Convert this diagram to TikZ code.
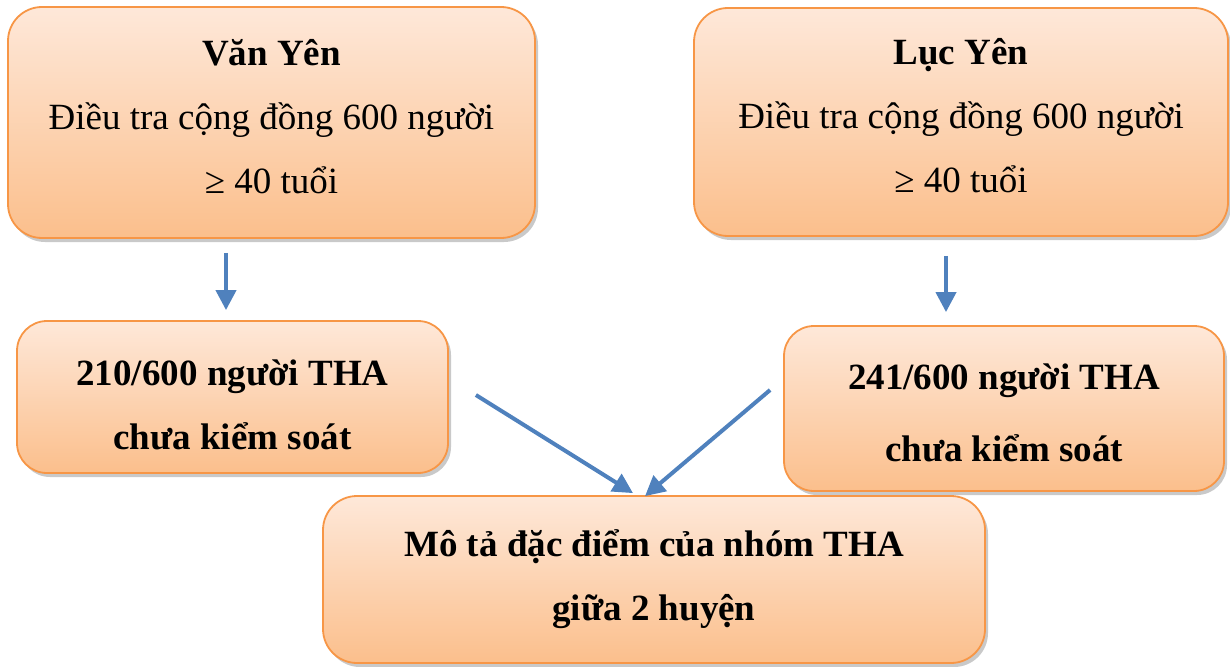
\documentclass[tikz,border=0pt]{standalone}
\usepackage{fontspec}
\setmainfont{Liberation Serif}
\usetikzlibrary{arrows.meta,shadows}
\definecolor{boxedge}{HTML}{F79646}
\definecolor{boxtop}{HTML}{FEE8D9}
\definecolor{boxbottom}{HTML}{FBBF8C}
\definecolor{arrowblue}{HTML}{4F81BD}
\tikzset{
  box/.style={draw=boxedge, line width=1.8pt, rounded corners=34pt,
    top color=boxtop, bottom color=boxbottom, inner sep=0pt, align=center,
    font=\fontsize{37}{64}\selectfont,
    drop shadow={shadow xshift=3pt, shadow yshift=-4pt, opacity=0.3, fill=black!70}},
  flow/.style={draw=arrowblue, line width=4pt,
    -{Triangle[length=20pt,width=20pt]}}
}
% invisible struts that nudge a text block up (deeper last line) or down (taller first line)
\newcommand{\lowstrut}[1]{\rule[-#1]{0pt}{#1}}
\newcommand{\highstrut}[1]{\rule{0pt}{#1}}
\begin{document}
\begin{tikzpicture}[x=1pt,y=-1pt]
\useasboundingbox (0,0) rectangle (1230,666);
% district surveys
\node[box, minimum width=527pt, minimum height=231pt] (A) at (271.5,122.5)
  {{\bfseries Văn Yên}\\Điều tra cộng đồng 600 người\\≥ 40 tuổi\lowstrut{13pt}};
\node[box, minimum width=534pt, minimum height=228pt] (B) at (961,122)
  {{\bfseries Lục Yên}\\Điều tra cộng đồng 600 người\\≥ 40 tuổi\lowstrut{13pt}};
% uncontrolled hypertension counts
\node[box, font=\bfseries\fontsize{37}{64}\selectfont, rounded corners=30pt,
  minimum width=431pt, minimum height=152pt] (C) at (232.5,397)
  {\highstrut{41pt}210/600 người THA\\chưa kiểm soát};
\node[box, font=\bfseries\fontsize{37}{72}\selectfont, rounded corners=30pt,
  minimum width=440pt, minimum height=165pt] (D) at (1004,408.5)
  {\highstrut{34pt}241/600 người THA\\chưa kiểm soát};
% comparison
\node[box, font=\bfseries\fontsize{37}{64}\selectfont,
  minimum width=662pt, minimum height=167pt] (E) at (654,579.5)
  {Mô tả đặc điểm của nhóm THA\\giữa 2 huyện};
% connectors
\draw[flow, shorten <=14pt, shorten >=10pt]
  ([xshift=-45.5pt]A.south) -- ([xshift=-45.5pt]A.south |- C.north);
\draw[flow, shorten <=19pt, shorten >=13pt]
  ([xshift=-15pt]B.south) -- ([xshift=-15pt]B.south |- D.north);
\draw[flow] ([xshift=27pt,yshift=2pt]C.east) -- ([xshift=-21pt,yshift=2pt]E.north);
\draw[flow] ([xshift=-13pt,yshift=18.5pt]D.west) -- ([xshift=-9pt,yshift=-1pt]E.north);
\end{tikzpicture}
\end{document}
